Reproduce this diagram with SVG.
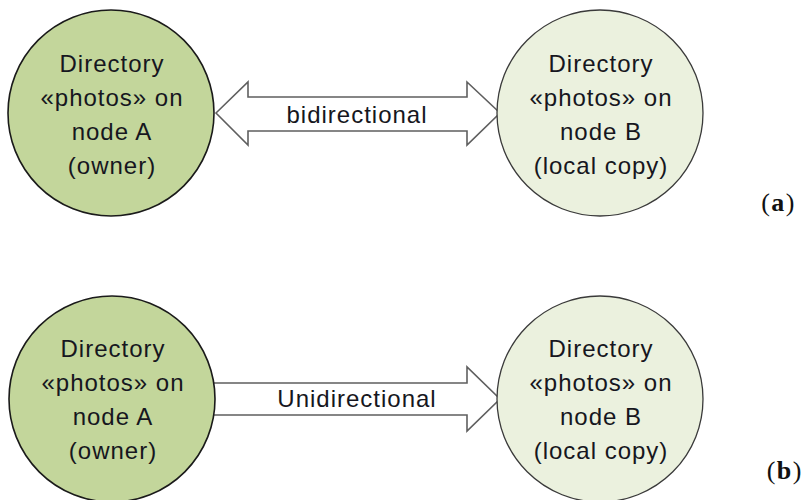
<svg xmlns="http://www.w3.org/2000/svg" width="802" height="500" viewBox="0 0 802 500">
  <style>
    .owner { fill: #c3d69b; stroke: #1a1a1a; stroke-width: 1.6; }
    .copy { fill: #ebf1de; stroke: #3a3a3a; stroke-width: 1.3; }
    .arrow { fill: #ffffff; stroke: #5f5f5f; stroke-width: 1.6; stroke-linejoin: miter; }
    .lbl { font-family: "Liberation Sans", Arial, sans-serif; font-size: 24px; letter-spacing: 1px; fill: #161620; text-anchor: middle; }
    .tag { font-family: "Liberation Serif", "Times New Roman", serif; font-size: 26px; letter-spacing: 1.5px; fill: #111; text-anchor: end; }
  </style>
  <rect width="802" height="500" fill="#ffffff"/>

  <!-- connectors -->
  <g id="connectors">
    <polygon id="bidirectional" class="arrow" points="216,113 248,82 248,97 467,97 467,82 500,113 467,145 467,131 248,131 248,145"/>
    <text class="lbl" x="357" y="123">bidirectional</text>
    <polygon id="unidirectional" class="arrow" points="200,383 467,383 467,367 500,399 467,431 467,415 200,415"/>
    <text class="lbl" x="357" y="407">Unidirectional</text>
  </g>

  <!-- (a) bidirectional sync -->
  <g id="nodeA_a">
    <circle class="owner" cx="111" cy="113" r="103"/>
    <text class="lbl" x="112" y="72">Directory</text>
    <text class="lbl" x="112" y="106">«photos» on</text>
    <text class="lbl" x="112" y="140">node A</text>
    <text class="lbl" x="112" y="174">(owner)</text>
  </g>
  <g id="nodeB_a">
    <circle class="copy" cx="600" cy="113" r="103"/>
    <text class="lbl" x="601" y="72">Directory</text>
    <text class="lbl" x="601" y="106">«photos» on</text>
    <text class="lbl" x="601" y="140">node B</text>
    <text class="lbl" x="601" y="174">(local copy)</text>
  </g>

  <!-- (b) unidirectional sync -->
  <g id="nodeA_b">
    <circle class="owner" cx="112" cy="399" r="103"/>
    <text class="lbl" x="113" y="357">Directory</text>
    <text class="lbl" x="113" y="391">«photos» on</text>
    <text class="lbl" x="113" y="425">node A</text>
    <text class="lbl" x="113" y="459">(owner)</text>
  </g>
  <g id="nodeB_b">
    <circle class="copy" cx="600" cy="399" r="103"/>
    <text class="lbl" x="601" y="357">Directory</text>
    <text class="lbl" x="601" y="391">«photos» on</text>
    <text class="lbl" x="601" y="425">node B</text>
    <text class="lbl" x="601" y="459">(local copy)</text>
  </g>

  <!-- panel tags -->
  <text class="tag" x="796" y="211">(<tspan font-weight="bold">a</tspan>)</text>
  <text class="tag" x="803" y="479">(<tspan font-weight="bold">b</tspan>)</text>
</svg>
